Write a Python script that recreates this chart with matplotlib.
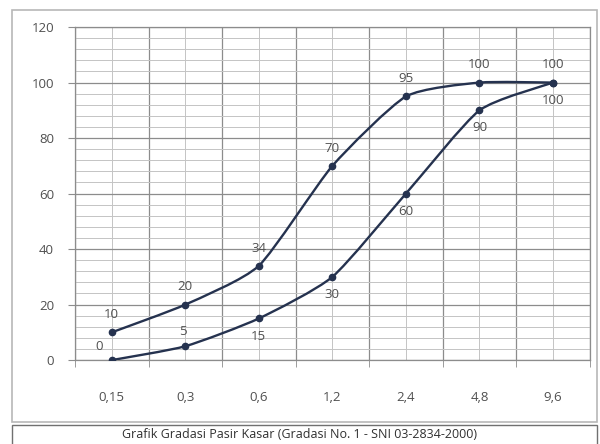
import numpy as np
import matplotlib.pyplot as plt
from matplotlib.path import Path
from matplotlib.patches import PathPatch, Rectangle

plt.rcParams['font.family'] = ['Open Sans', 'DejaVu Sans']
plt.rcParams['font.size'] = 9.5

sieves = ["0,15", "0,3", "0,6", "1,2", "2,4", "4,8", "9,6"]
upper = [10, 20, 34, 70, 95, 100, 100]
lower = [0, 5, 15, 30, 60, 90, 100]
title = "Grafik Gradasi Pasir Kasar (Gradasi No. 1 - SNI 03-2834-2000)"

line_col = "#25324f"
text_col = "#505050"


def smooth_path(x, y, k=10):
    # lightly smoothed line: cubic Bezier through every point
    pts = np.column_stack([x, y]).astype(float)
    verts = [pts[0]]
    codes = [Path.MOVETO]
    n = len(pts)
    for i in range(n - 1):
        p0 = pts[i - 1] if i > 0 else pts[i]
        p1 = pts[i]
        p2 = pts[i + 1]
        p3 = pts[i + 2] if i + 2 < n else pts[i + 1]
        c1 = p1 + (p2 - p0) / k
        c2 = p2 - (p3 - p1) / k
        verts += [c1, c2, p2]
        codes += [Path.CURVE4] * 3
    return Path(verts, codes)


fig = plt.figure(figsize=(6.0, 4.44), dpi=100)
ax = fig.add_axes([0.125, 0.189, 0.858, 0.750])

xs = np.arange(len(sieves))
for vals in (upper, lower):
    ax.add_patch(PathPatch(smooth_path(xs, vals), fill=False, edgecolor=line_col, lw=1.7, zorder=3))
    ax.plot(xs, vals, ls="none", marker="o", ms=4.5, color=line_col, zorder=4)

for i, v in enumerate(upper):
    ax.annotate(str(v), (xs[i], v), xytext=(0, 8), textcoords="offset points",
                ha="center", va="bottom", color=text_col)
for i, v in enumerate(lower):
    if i == 0:
        ax.annotate(str(v), (xs[i], v), xytext=(-9, 5), textcoords="offset points",
                    ha="center", va="bottom", color=text_col)
    elif i == 1:
        ax.annotate(str(v), (xs[i], v), xytext=(-2, 6), textcoords="offset points",
                    ha="center", va="bottom", color=text_col)
    else:
        ax.annotate(str(v), (xs[i], v), xytext=(0, -8), textcoords="offset points",
                    ha="center", va="top", color=text_col)

ax.set_xlim(-0.5, len(sieves) - 0.5)
ax.set_ylim(0, 120)
ax.set_yticks(np.arange(0, 121, 20))
ax.set_yticks(np.arange(0, 121, 4), minor=True)
ax.set_xticks(xs)
ax.set_xticklabels(sieves)
ax.set_xticks(np.arange(-0.5, len(sieves), 1.0), minor=True)

ax.grid(which="major", axis="y", color="#8c8c8c", lw=0.9)
ax.grid(which="minor", axis="y", color="#c4c4c4", lw=0.7)
ax.grid(which="minor", axis="x", color="#8c8c8c", lw=0.9)
ax.grid(which="major", axis="x", color="#c4c4c4", lw=0.7)
ax.set_axisbelow(True)

ax.tick_params(axis="y", which="major", length=5, color="#8c8c8c", labelcolor=text_col, pad=10)
ax.tick_params(axis="y", which="minor", length=0)
ax.tick_params(axis="x", which="major", length=0, labelcolor=text_col, pad=22)
ax.tick_params(axis="x", which="minor", length=5, color="#8c8c8c")
for s in ax.spines.values():
    s.set_color("#8c8c8c")
    s.set_linewidth(0.9)

# chart frame and caption box
fig.patches.append(Rectangle((12 / 600, 1 - 422 / 444), 585 / 600, 412 / 444,
                             transform=fig.transFigure, fill=False, ec="#b8b8b8", lw=1.2))
fig.patches.append(Rectangle((12 / 600, -0.01), 585 / 600, (444 - 425) / 444 + 0.01,
                             transform=fig.transFigure, fill=False, ec="#707070", lw=1.0))
fig.text(0.5, 1 - 434 / 444, title, ha="center", va="center", fontsize=9, color="#303030")

fig.savefig("out.png", dpi=100)
